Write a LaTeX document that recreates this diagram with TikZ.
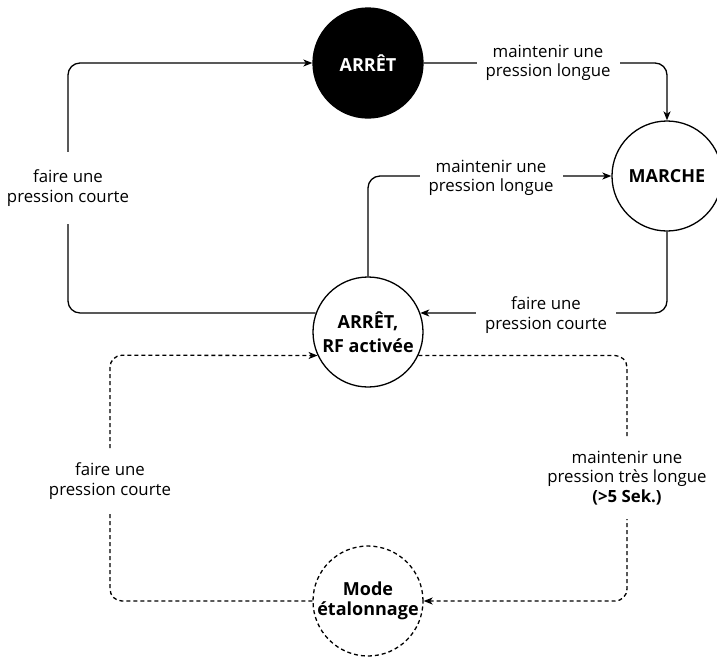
\documentclass[tikz,border=0pt]{standalone}
\usepackage{fontspec}
\setmainfont{Open Sans}
\usetikzlibrary{arrows.meta}
\begin{document}
\begin{tikzpicture}[x=1pt,y=-1pt,
  state/.style={circle,draw,line width=1.3pt,minimum size=110pt,inner sep=0pt,
    align=center,font=\fontsize{18}{24}\selectfont\bfseries},
  conn/.style={line width=1.3pt,rounded corners=12pt,
    -{Stealth[length=9pt,width=7pt,inset=2.5pt]}},
  dconn/.style={conn,dash pattern=on 4pt off 3pt},
  lbl/.style={fill=white,align=center,inner xsep=9pt,inner ysep=18pt,
    font=\fontsize{16.8}{19.5}\selectfont}]
\useasboundingbox (0,0) rectangle (717,657);

% states
\node[state,fill=black,text=white] (off) at (368,63) {ARRÊT};
\node[state] (run) at (667,176) {MARCHE};
\node[state] (rf) at (368,332) {ARRÊT,\\RF activée};
\node[state,dash pattern=on 4pt off 3pt,font=\fontsize{18}{20}\selectfont\bfseries]
  (cal) at (368,601) {Mode\\étalonnage};

% transitions
\draw[conn] (rf.160) -| (68,63) -- (off.west);
\draw[conn] (off.east) -| (run.north);
\draw[conn] (rf.north) |- (run.west);
\draw[conn] (run.south) |- (rf.20);
\draw[dconn] (rf.-25) -| (627,601) -- (cal.east);
\draw[dconn] (cal.west) -| (110,355.2) -- (rf.205);

% transition labels
\node[lbl] (l1) at (68,188) {faire une\\pression courte};
\node[lbl,inner ysep=4pt] (l2) at (548,63) {maintenir une\\pression longue};
\node[lbl,inner ysep=4pt] (l3) at (491,178) {maintenir une\\pression longue};
\node[lbl,inner ysep=4pt] (l4) at (546,315) {faire une\\pression courte};
\node[lbl,inner ysep=14pt] (l5) at (627,478) {maintenir une\\pression très longue\\\textbf{(>5 Sek.)}};
\node[lbl,inner ysep=14pt] (l6) at (110,481) {faire une\\pression courte};
\end{tikzpicture}
\end{document}
